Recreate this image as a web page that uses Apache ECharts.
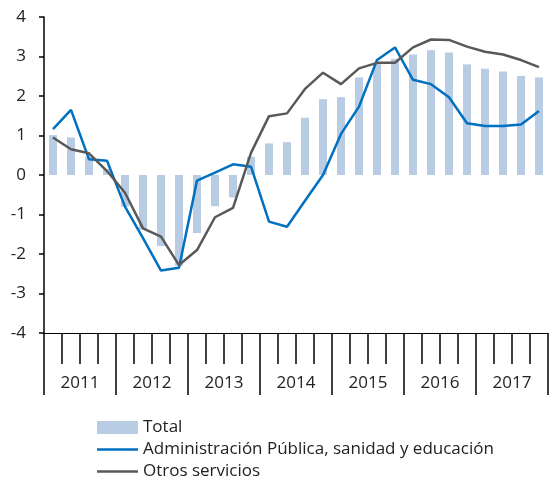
<!DOCTYPE html>
<html>
<head>
<meta charset="utf-8">
<script src="https://cdn.jsdelivr.net/npm/echarts@6/dist/echarts.min.js"></script>
<style>
  html, body { margin: 0; padding: 0; background: #fff; }
  #chart { width: 552px; height: 479px; }
</style>
</head>
<body>
<div id="chart"></div>
<script>
// trimestres 2011-2017
var years = ['2011', '2012', '2013', '2014', '2015', '2016', '2017'];
var quarters = [];
years.forEach(function (y) {
  for (var q = 1; q <= 4; q++) quarters.push(y + 'T' + q);
});

var total = [1.01, 0.95, 0.46, 0.15, -0.8, -1.38, -1.8, -2.3,
             -1.47, -0.79, -0.57, 0.46, 0.80, 0.83, 1.45, 1.92,
             1.97, 2.47, 2.83, 2.94, 3.05, 3.16, 3.10, 2.80,
             2.69, 2.62, 2.51, 2.47];
var adminPublica = [1.16, 1.65, 0.40, 0.36, -0.80, -1.60, -2.42, -2.35,
                    -0.14, 0.06, 0.27, 0.21, -1.18, -1.31, -0.65, 0.0,
                    1.04, 1.73, 2.91, 3.23, 2.41, 2.30, 1.97, 1.31,
                    1.24, 1.24, 1.28, 1.62];
var otrosServicios = [0.95, 0.65, 0.55, 0.10, -0.45, -1.35, -1.56, -2.28,
                      -1.90, -1.07, -0.83, 0.56, 1.49, 1.56, 2.18, 2.59,
                      2.30, 2.70, 2.84, 2.84, 3.23, 3.43, 3.42, 3.25,
                      3.12, 3.05, 2.91, 2.73];

var font = 'Open Sans';
var lineIcon = 'path://M0,0 H41 V2.5 H0 Z';
var chart = echarts.init(document.getElementById('chart'));

var option = {
  animation: false,
  textStyle: { fontFamily: font, color: '#222' },
  grid: { left: 44, right: 4, top: 17, bottom: 146 },
  legend: {
    orient: 'vertical',
    left: 92,
    top: 412,
    height: 90,
    itemWidth: 41,
    itemHeight: 13,
    itemGap: 1,
    textStyle: { fontFamily: font, fontSize: 17, color: '#222', lineHeight: 21 },
    data: [
      { name: 'Total', icon: 'rect' },
      { name: 'Administración Pública, sanidad y educación', icon: lineIcon },
      { name: 'Otros servicios', icon: lineIcon }
    ]
  },
  xAxis: [
    {
      type: 'category',
      data: quarters,
      boundaryGap: true,
      axisLine: { show: true, onZero: false, lineStyle: { color: '#000', width: 1 } },
      axisTick: { show: true, interval: 0, length: 31, lineStyle: { color: '#000', width: 1.5 } },
      axisLabel: { show: false }
    },
    {
      type: 'category',
      data: years,
      position: 'bottom',
      boundaryGap: true,
      axisLine: { show: false, onZero: false },
      axisTick: { show: true, interval: 0, length: 62, lineStyle: { color: '#000', width: 1.5 } },
      axisLabel: { show: true, interval: 0, margin: 42, fontSize: 17, color: '#222', fontFamily: font }
    }
  ],
  yAxis: {
    type: 'value',
    min: -4,
    max: 4,
    interval: 1,
    axisLine: { show: true, lineStyle: { color: '#000', width: 1.5 } },
    axisTick: { show: true, length: 5, lineStyle: { color: '#000', width: 1.5 } },
    splitLine: { show: false },
    axisLabel: { margin: 18, fontSize: 17, color: '#222', fontFamily: font }
  },
  series: [
    {
      name: 'Total',
      type: 'bar',
      data: total,
      barWidth: 8,
      itemStyle: { color: '#b8cce4' }
    },
    {
      name: 'Administración Pública, sanidad y educación',
      type: 'line',
      data: adminPublica,
      symbol: 'none',
      lineStyle: { color: '#0070c0', width: 2.5 },
      itemStyle: { color: '#0070c0' }
    },
    {
      name: 'Otros servicios',
      type: 'line',
      data: otrosServicios,
      symbol: 'none',
      lineStyle: { color: '#595959', width: 2.5 },
      itemStyle: { color: '#595959' }
    }
  ]
};

chart.setOption(option);
</script>
</body>
</html>
